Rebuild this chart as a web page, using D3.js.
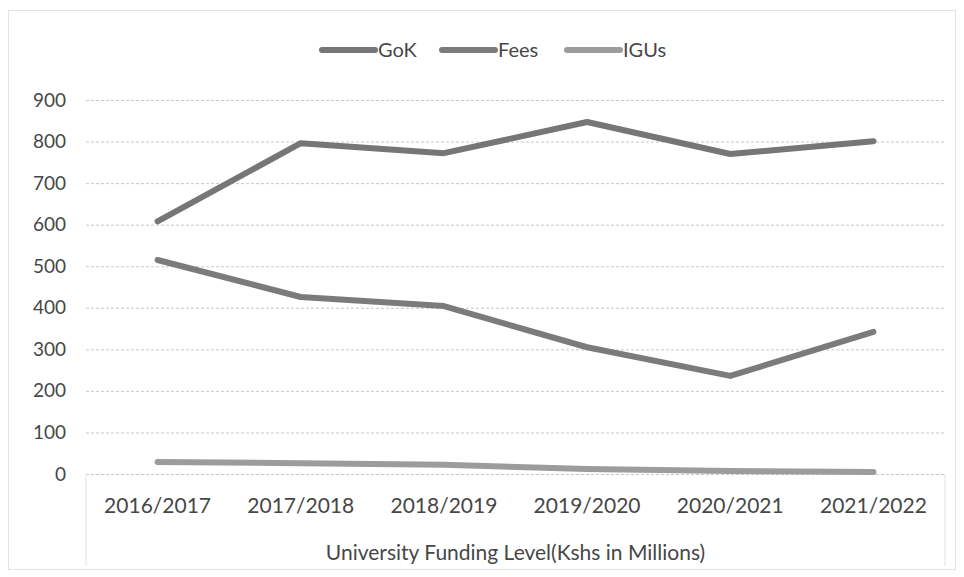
<!DOCTYPE html>
<html>
<head>
<meta charset="utf-8">
<script src="https://cdn.jsdelivr.net/npm/d3@7"></script>
<style>
  html, body { margin: 0; background: #fff; overflow: hidden; }
  svg { display: block; font-family: Lato, 'Open Sans', sans-serif; }
  .tick-lines line { stroke: #c8c8c8; stroke-dasharray: 3 2; }
  .axis text { fill: #474747; }
</style>
</head>
<body>
<svg id="chart"></svg>
<script>
const years = ['2016/2017', '2017/2018', '2018/2019', '2019/2020', '2020/2021', '2021/2022'];
const gok = [608, 796, 772, 847, 770, 801];
const fees = [515, 426, 404, 305, 236, 342];
const igus = [29, 26, 22, 12, 7, 5];
const yTicks = [0, 100, 200, 300, 400, 500, 600, 700, 800, 900];

const series = [
  { name: 'GoK', values: gok, color: '#767676' },
  { name: 'Fees', values: fees, color: '#7b7b7b' },
  { name: 'IGUs', values: igus, color: '#9c9c9c' },
];

const width = 964;
const height = 577;
const margin = { top: 100, right: 19, bottom: 103, left: 86 };
const innerWidth = width - margin.left - margin.right;
const innerHeight = height - margin.top - margin.bottom;

const svg = d3.select('#chart')
  .attr('width', width)
  .attr('height', height);

// outer frame
svg.append('rect')
  .attr('x', 8.5)
  .attr('y', 10.5)
  .attr('width', width - 17)
  .attr('height', height - 18)
  .attr('fill', 'none')
  .attr('stroke', '#e2e2e2');

const g = svg.append('g')
  .attr('transform', `translate(${margin.left}, ${margin.top})`);

const x = d3.scaleBand()
  .range([0, innerWidth])
  .domain(years);

const y = d3.scaleLinear()
  .range([innerHeight, 0])
  .domain([0, 900]);

// grid lines
g.append('g')
  .attr('class', 'tick-lines')
  .call(d3.axisLeft(y).tickValues(yTicks).tickSize(-innerWidth))
  .call(s => s.select('.domain').remove())
  .call(s => s.selectAll('text').remove());

// y labels
g.append('g')
  .attr('class', 'axis')
  .call(d3.axisLeft(y).tickValues(yTicks).tickSize(0).tickPadding(20))
  .attr('font-family', null)
  .attr('font-size', 19)
  .call(s => s.select('.domain').remove());

// x axis box
g.append('path')
  .attr('d', `M0,${innerHeight} V${innerHeight + 92} M${innerWidth},${innerHeight} V${innerHeight + 92}`)
  .attr('stroke', '#e2e2e2')
  .attr('fill', 'none');

g.append('g')
  .attr('class', 'axis')
  .attr('transform', `translate(0, ${innerHeight})`)
  .call(d3.axisBottom(x).tickSize(0).tickPadding(24))
  .attr('font-family', null)
  .attr('font-size', 21)
  .call(s => s.select('.domain').remove());

// axis title
svg.append('text')
  .attr('x', margin.left + innerWidth / 2)
  .attr('y', 560)
  .attr('text-anchor', 'middle')
  .attr('fill', '#474747')
  .attr('font-size', 21)
  .text('University Funding Level(Kshs in Millions)');

// lines
const line = d3.line()
  .x((d, i) => x(years[i]) + x.bandwidth() / 2)
  .y(d => y(d));

g.selectAll('.series')
  .data(series)
  .enter().append('path')
    .attr('class', 'series')
    .attr('d', d => line(d.values))
    .attr('fill', 'none')
    .attr('stroke', d => d.color)
    .attr('stroke-width', 6)
    .attr('stroke-linecap', 'round')
    .attr('stroke-linejoin', 'round');

// legend
const legendX = [320, 440, 565];
const legend = svg.append('g');
const items = legend.selectAll('g')
  .data(series)
  .enter().append('g')
    .attr('transform', (d, i) => `translate(${legendX[i]}, 50)`);
items.append('line')
  .attr('x1', 2)
  .attr('x2', 55)
  .attr('stroke', d => d.color)
  .attr('stroke-width', 6)
  .attr('stroke-linecap', 'round');
items.append('text')
  .attr('x', 58)
  .attr('y', 7)
  .attr('fill', '#474747')
  .attr('font-size', 20)
  .text(d => d.name);
</script>
</body>
</html>
